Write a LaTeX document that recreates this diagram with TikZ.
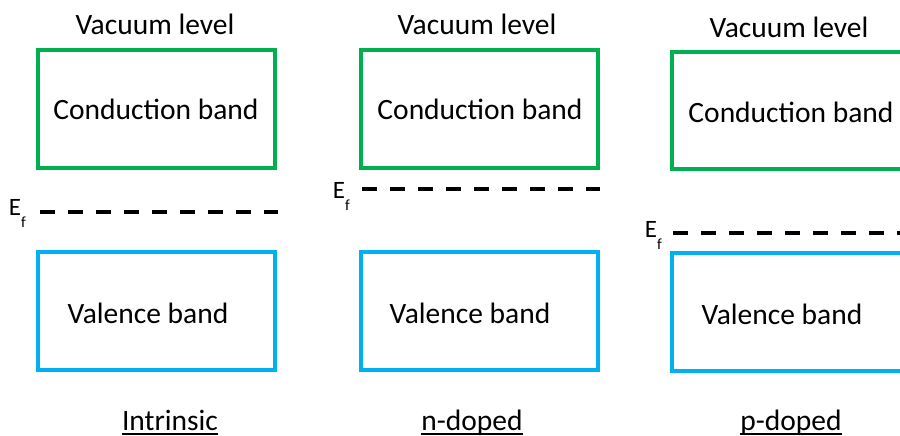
\documentclass[tikz,border=0pt]{standalone}
\usepackage{fontspec}
\setmainfont{Carlito}
\definecolor{cbgreen}{RGB}{0,176,80}
\definecolor{vbblue}{RGB}{0,176,240}
\tikzset{
  cband/.style={draw=cbgreen, line width=3.3pt},
  vband/.style={draw=vbblue, line width=3.3pt},
  label/.style={anchor=base, inner sep=0pt, font=\fontsize{29.5}{32}\selectfont},
  fermi/.style={black, line width=4pt, dash pattern=on 15pt off 13pt},
  eflab/.style={anchor=base east, inner sep=0pt, font=\fontsize{25}{27}\selectfont},
  uline/.style={black, line width=2pt},
}
\newcommand{\efsym}{E\raisebox{-12pt}{\fontsize{15.5}{16}\selectfont f}}
\begin{document}
\begin{tikzpicture}[x=1pt,y=-1pt]
\useasboundingbox (0,0) rectangle (900,436);
\clip (0,0) rectangle (900,436);

% intrinsic
\draw[cband] (38,50) rectangle (275,168);
\draw[vband] (38,252) rectangle (275,370);
\node[label] (vacI) at (155,35) {Vacuum level};
\node[label] (cbI) at (156,120) {Conduction band};
\node[label] (vbI) at (148,323) {Valence band};
\node[label] (tI) at (170,430) {Intrinsic};
\draw[uline] ([yshift=-3.5pt]tI.base west) -- ([yshift=-3.5pt]tI.base east);
\node[eflab] (efI) at (26,215) {\efsym};
\coordinate (efIa) at (40,212);
\coordinate (efIb) at (278,212);
\draw[fermi] (efIa) -- (efIb);

% n-doped
\draw[cband] (361,50) rectangle (598,168);
\draw[vband] (361,252) rectangle (598,370);
\node[label] (vacN) at (477,35) {Vacuum level};
\node[label] (cbN) at (480,120) {Conduction band};
\node[label] (vbN) at (470,323) {Valence band};
\node[label] (tN) at (472,430) {n-doped};
\draw[uline] ([yshift=-3.5pt]tN.base west) -- ([yshift=-3.5pt]tN.base east);
\node[eflab] (efN) at (350,198) {\efsym};
\coordinate (efNa) at (362,189);
\coordinate (efNb) at (600,189);
\draw[fermi] (efNa) -- (efNb);

% p-doped
\draw[cband] (672,52) rectangle (915,169);
\draw[vband] (672,253) rectangle (915,371);
\node[label] (vacP) at (789,38) {Vacuum level};
\node[label] (cbP) at (791,122) {Conduction band};
\node[label] (vbP) at (782,324) {Valence band};
\node[label] (tP) at (791,430) {p-doped};
\draw[uline] ([yshift=-3.5pt]tP.base west) -- ([yshift=-3.5pt]tP.base east);
\node[eflab] (efP) at (662,237) {\efsym};
\coordinate (efPa) at (673,233);
\coordinate (efPb) at (915,233);
\draw[fermi] (efPa) -- (efPb);
\end{tikzpicture}
\end{document}
